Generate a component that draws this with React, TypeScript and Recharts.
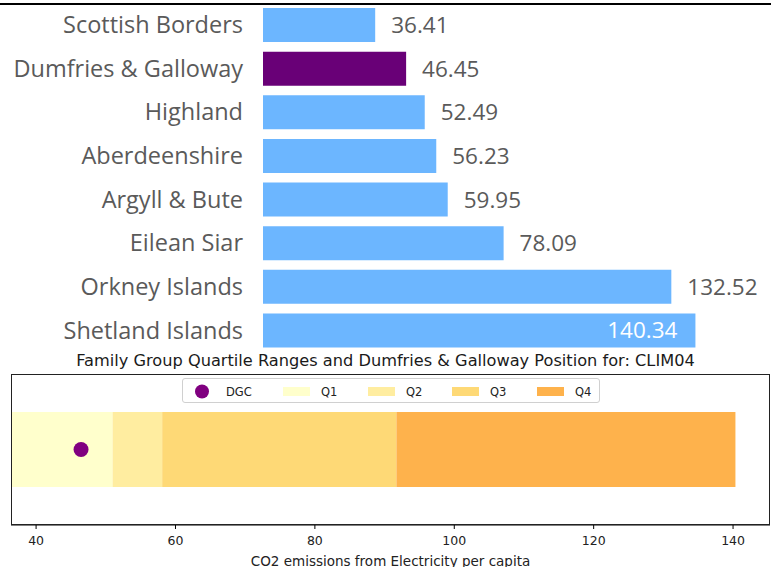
import React from 'react';
import { BarChart, Bar, XAxis, YAxis, LabelList, ReferenceDot, Cell } from 'recharts';

// council areas in the family group, sorted by value
const areas = ['Scottish Borders', 'Dumfries & Galloway', 'Highland', 'Aberdeenshire', 'Argyll & Bute', 'Eilean Siar', 'Orkney Islands', 'Shetland Islands'];
const values = [36.41, 46.45, 52.49, 56.23, 59.95, 78.09, 132.52, 140.34];
const highlight = 'Dumfries & Galloway';

// upper edges of each quartile range (Q1..Q4)
const quartileNames = ['Q1', 'Q2', 'Q3', 'Q4'];
const quartileEdges = [50.98, 58.09, 91.7, 140.34];
const dgcValue = 46.45;
const xTicks = [40, 60, 80, 100, 120, 140];

const BLUE = '#6cb6ff';
const PURPLE = '#690077';
const Q_COLORS = ['#ffffcc', '#ffeda0', '#fed976', '#feb24c'];
const GRAY = '#5a5a5a';
const SEGOE = '"Open Sans", "Noto Sans", sans-serif';
const MPL = '"DejaVu Sans", sans-serif';

const rankData = areas.map((name, i) => ({ name, value: values[i] }));

// stacked quartile widths, first segment starts at zero (clipped by the axis)
const quartileRow: Record<string, any> = { name: 'range' };
quartileNames.forEach((q, i) => {
  quartileRow[q] = quartileEdges[i] - (i > 0 ? quartileEdges[i - 1] : 0);
});

const PLOT_RIGHT = 756;

// value sits after the bar, or inside it in white when it would run off the edge
const ValueLabel = (props: any) => {
  const { x, y, width, height, value } = props;
  const end = x + width;
  const text = value.toFixed(2);
  const inside = end + 16 + text.length * 10 > 764;
  return (
    <text
      x={inside ? end - 18 : end + 16}
      y={y + height / 2}
      dy="0.36em"
      textAnchor={inside ? 'end' : 'start'}
      fill={inside ? '#ffffff' : GRAY}
      fontSize={22.5}
      fontFamily={SEGOE}
    >
      {text}
    </text>
  );
};

const QuartileLegend = () => (
  <div
    style={{
      position: 'absolute', left: 182, top: 378, width: 418, height: 25,
      border: '1px solid #d0d0d0', borderRadius: 3, background: '#fff',
      boxSizing: 'border-box',
    }}
  >
    <svg width={418} height={25} style={{ position: 'absolute', left: 0, top: 0 }}>
      <circle cx={19} cy={12.5} r={7} fill="#800080" />
      <text x={43} y={16.5} fontSize={11.5} fontFamily={MPL} fill="#222">DGC</text>
      {quartileNames.map((q, i) => {
        const px = [100, 185, 269, 354][i];
        return (
          <g key={q}>
            <rect x={px} y={8} width={27} height={9} fill={Q_COLORS[i]} />
            <text x={px + 38} y={16.5} fontSize={11.5} fontFamily={MPL} fill="#222">{q}</text>
          </g>
        );
      })}
    </svg>
  </div>
);

export default function App() {
  return (
    <div style={{ position: 'relative', width: 771, height: 567, background: '#fff', overflow: 'hidden' }}>
      <style>{'body { margin: 0; }'}</style>
      <div style={{ position: 'absolute', left: 0, top: 3, width: 771, height: 2, background: '#000' }} />

      <div style={{ position: 'absolute', left: 0, top: 0 }}>
        <BarChart
          width={771}
          height={352}
          data={rankData}
          layout="vertical"
          margin={{ top: 3, right: 771 - PLOT_RIGHT, bottom: 0, left: 0 }}
        >
          <XAxis type="number" domain={[0, 160]} hide />
          <YAxis
            type="category"
            dataKey="name"
            width={263}
            axisLine={false}
            tickLine={false}
            tickSize={0}
            tickMargin={20}
            tick={{ fontSize: 23.5, fontFamily: SEGOE, fill: GRAY }}
            interval={0}
          />
          <Bar dataKey="value" barSize={34} isAnimationActive={false}>
            {rankData.map((d) => (
              <Cell key={d.name} fill={d.name === highlight ? PURPLE : BLUE} />
            ))}
            <LabelList dataKey="value" content={ValueLabel} />
          </Bar>
        </BarChart>
      </div>

      <div
        style={{
          position: 'absolute', left: 0, top: 351, width: 771, textAlign: 'center',
          fontFamily: MPL, fontSize: 16.2, color: '#1a1a1a', lineHeight: '20px', whiteSpace: 'nowrap',
        }}
      >
        Family Group Quartile Ranges and Dumfries &amp; Galloway Position for: CLIM04
      </div>

      <div style={{ position: 'absolute', left: 0, top: 364 }}>
        <BarChart
          width={771}
          height={203}
          data={[quartileRow]}
          layout="vertical"
          margin={{ top: 10, right: 1, bottom: 0, left: 11 }}
        >
          <XAxis
            type="number"
            domain={[36.4, 145.3]}
            allowDataOverflow
            ticks={xTicks}
            tickSize={4}
            tickMargin={7}
            height={42}
            stroke="#000"
            tick={{ fontSize: 12.5, fontFamily: MPL, fill: '#222' }}
            label={{ value: 'CO2 emissions from Electricity per capita', position: 'insideBottom', offset: 1, fontSize: 13.5, fontFamily: MPL, fill: '#222' }}
          />
          <YAxis type="category" dataKey="name" hide />
          {quartileNames.map((q, i) => (
            <Bar key={q} dataKey={q} stackId="q" fill={Q_COLORS[i]} barSize={75} isAnimationActive={false} />
          ))}
          <ReferenceDot x={dgcValue} y="range" r={7.5} fill="#800080" stroke="none" />
        </BarChart>
      </div>

      {/* axes frame */}
      <div
        style={{
          position: 'absolute', left: 11, top: 374, width: 759, height: 151,
          border: '1px solid #222', boxSizing: 'border-box', pointerEvents: 'none',
        }}
      />

      <QuartileLegend />
    </div>
  );
}
